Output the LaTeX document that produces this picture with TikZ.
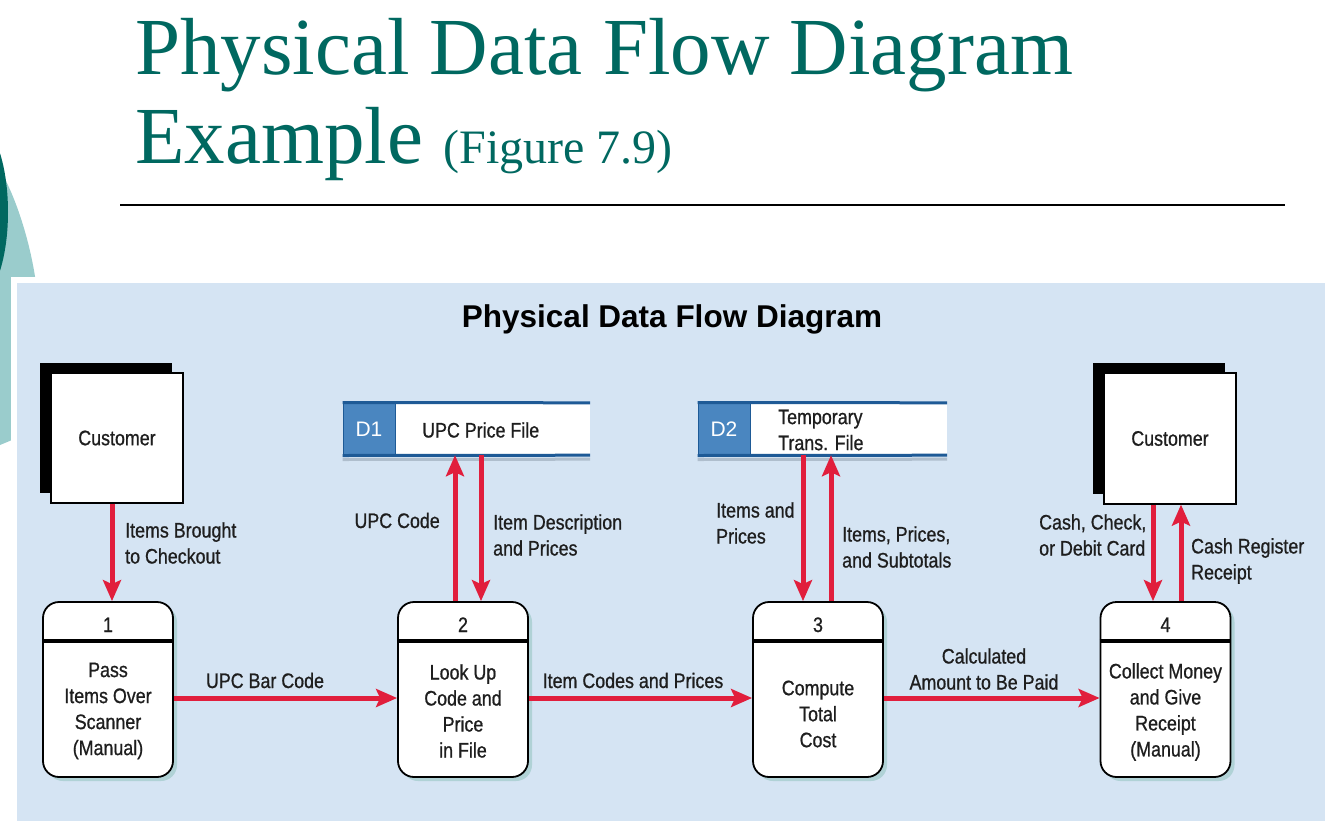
\documentclass[tikz,border=0pt]{standalone}
\usepackage{fontspec}
\setmainfont{Liberation Serif}
\newfontfamily\dfdfont[FakeStretch=0.85,FakeBold=0.8]{Liberation Sans}
\newfontfamily\headfont{Liberation Sans}
\usetikzlibrary{arrows.meta,shadows}

\definecolor{slideteal}{RGB}{0,104,96}
\definecolor{paleteal}{RGB}{154,204,204}
\definecolor{panelblue}{RGB}{213,228,243}
\definecolor{flowred}{RGB}{225,30,60}
\definecolor{storefill}{RGB}{74,134,192}
\definecolor{storeline}{RGB}{30,90,150}
\definecolor{storeshade}{RGB}{175,190,205}
\definecolor{procshadow}{RGB}{176,210,214}
\definecolor{txt}{RGB}{30,30,30}

\begin{document}
\begin{tikzpicture}[x=1pt,y=-1pt,
  dfdtext/.style={font=\dfdfont\fontsize{21}{26}\selectfont, text=txt, inner sep=0pt},
  entity/.style={dfdtext, draw=black, line width=1.2pt, fill=white,
    minimum width=132pt, minimum height=130pt,
    general shadow={fill=black, shadow xshift=-11pt, shadow yshift=10pt}},
  process/.style={draw=black, line width=1.8pt, fill=white, rounded corners=16pt,
    minimum width=130pt, minimum height=175pt, inner sep=0pt,
    drop shadow={shadow xshift=4pt, shadow yshift=-4pt, fill=procshadow, opacity=1}},
  divider/.style={draw=black, line width=3.5pt},
  storeid/.style={fill=storefill, draw=storeline, line width=1pt, minimum width=52pt,
    minimum height=52pt, inner sep=0pt, text=white,
    font=\headfont\fontsize{21}{24}\selectfont},
  storebody/.style={fill=white, minimum height=52pt, inner sep=0pt},
  storeedge/.style={draw=storeline, line width=3pt},
  storeshadow/.style={draw=storeshade, line width=3pt},
  lbl/.style={dfdtext, align=left},
  clbl/.style={dfdtext, align=center},
  flow/.style={draw=flowred, line width=5pt, -{Stealth[length=21pt,width=18pt,inset=4pt]}}
]
\useasboundingbox (0,0) rectangle (1334,828);

% slide decoration at the left edge
\fill[paleteal] (0,170) .. controls (15,195) and (30,240) .. (36,283)
  -- (36,430) -- (0,445) -- cycle;
\fill[slideteal] (-25,212) ellipse [x radius=33, y radius=90];

% slide heading
\node[anchor=base west, inner sep=0pt, text=slideteal, font=\fontsize{81}{90}\selectfont]
  (head1) at (135,74) {Physical Data Flow Diagram};
\node[anchor=base west, inner sep=0pt, text=slideteal, font=\fontsize{81}{90}\selectfont]
  (head2) at (135,163) {Example {\fontsize{48}{50}\selectfont(Figure 7.9)}};
\draw[line width=2pt] (120,205) -- (1285,205);

% figure panel
\fill[white] (11,277) rectangle (1331,827);
\fill[panelblue] (17,283) rectangle (1325,821);
\node[anchor=base, inner sep=0pt, text=black, font=\headfont\bfseries\fontsize{31.5}{36}\selectfont]
  (ptitle) at (672,327) {Physical Data Flow Diagram};

% external entities
\node[entity] (cust1) at (117,438) {Customer};
\node[entity, minimum height=131pt] (cust2) at (1170,438.5) {Customer};

% processes
\foreach \name/\cx/\num in {p1/108/1, p2/463/2, p3/818/3, p4/1165.5/4}{
  \node[process] (\name) at (\cx,689.5) {};
  \draw[divider] ([yshift=-40pt]\name.north west) -- ([yshift=-40pt]\name.north east);
  \node[dfdtext, anchor=base] (\name num) at (\cx,632) {\num};
}
\node[clbl] (p1txt) at (108,711) {Pass\\Items Over\\Scanner\\(Manual)};
\node[clbl] (p2txt) at (463,711) {Look Up\\Code and\\Price\\in File};
\node[clbl] (p3txt) at (818,714) {Compute\\Total\\Cost};
\node[clbl] (p4txt) at (1165.5,712) {Collect Money\\and Give\\Receipt\\(Manual)};

% data stores
\node[storebody, minimum width=195pt] (d1) at (492.5,429) {};
\node[storeid] (d1id) at (369,429) {D1};
\draw[storeshadow] ([yshift=-4pt]d1id.south west) -- ([yshift=-4pt]d1.south east);
\draw[storeedge] (d1id.north west) -- (d1.north east);
\draw[storeedge] (d1id.south west) -- (d1.south east);
\node[dfdtext, anchor=west] (d1txt) at (422,430) {UPC Price File};

\node[storebody, minimum width=197pt] (d2) at (848.5,429) {};
\node[storeid] (d2id) at (724,429) {D2};
\draw[storeshadow] ([yshift=-4pt]d2id.south west) -- ([yshift=-4pt]d2.south east);
\draw[storeedge] (d2id.north west) -- (d2.north east);
\draw[storeedge] (d2id.south west) -- (d2.south east);
\node[lbl, anchor=west] (d2txt) at (778,430) {Temporary\\Trans. File};

% data flows
\coordinate (x1) at (112,0);
\coordinate (x2u) at (455,0);
\coordinate (x2d) at (481,0);
\coordinate (x3d) at (803,0);
\coordinate (x3u) at (831,0);
\coordinate (x4d) at (1153,0);
\coordinate (x4u) at (1181,0);
\coordinate (yh) at (0,698);

\draw[flow] (x1 |- cust1.south) -- (x1 |- p1.north);
\draw[flow] (p1.east |- yh) -- (p2.west |- yh);
\draw[flow] (x2u |- p2.north) -- (x2u |- d1.south);
\draw[flow] (x2d |- d1.south) -- (x2d |- p2.north);
\draw[flow] (p2.east |- yh) -- (p3.west |- yh);
\draw[flow] (x3d |- d2.south) -- (x3d |- p3.north);
\draw[flow] (x3u |- p3.north) -- (x3u |- d2.south);
\draw[flow] (p3.east |- yh) -- (p4.west |- yh);
\draw[flow] (x4d |- cust2.south) -- (x4d |- p4.north);
\draw[flow] (x4u |- p4.north) -- (x4u |- cust2.south);

% flow labels
\node[lbl, anchor=west] (l1) at (125,543) {Items Brought\\to Checkout};
\node[dfdtext, anchor=base] (l2) at (265,688) {UPC Bar Code};
\node[dfdtext, anchor=base east] (l3) at (440,528) {UPC Code};
\node[lbl, anchor=west] (l4) at (493,535) {Item Description\\and Prices};
\node[dfdtext, anchor=base] (l5) at (633,688) {Item Codes and Prices};
\node[lbl, anchor=west] (l6) at (716,523) {Items and\\Prices};
\node[lbl, anchor=west] (l7) at (842,547) {Items, Prices,\\and Subtotals};
\node[clbl] (l8) at (984,669) {Calculated\\Amount to Be Paid};
\node[lbl, anchor=west] (l9) at (1039,535) {Cash, Check,\\or Debit Card};
\node[lbl, anchor=west] (l10) at (1191,561) {Cash Register\\Receipt};
\end{tikzpicture}
\end{document}
